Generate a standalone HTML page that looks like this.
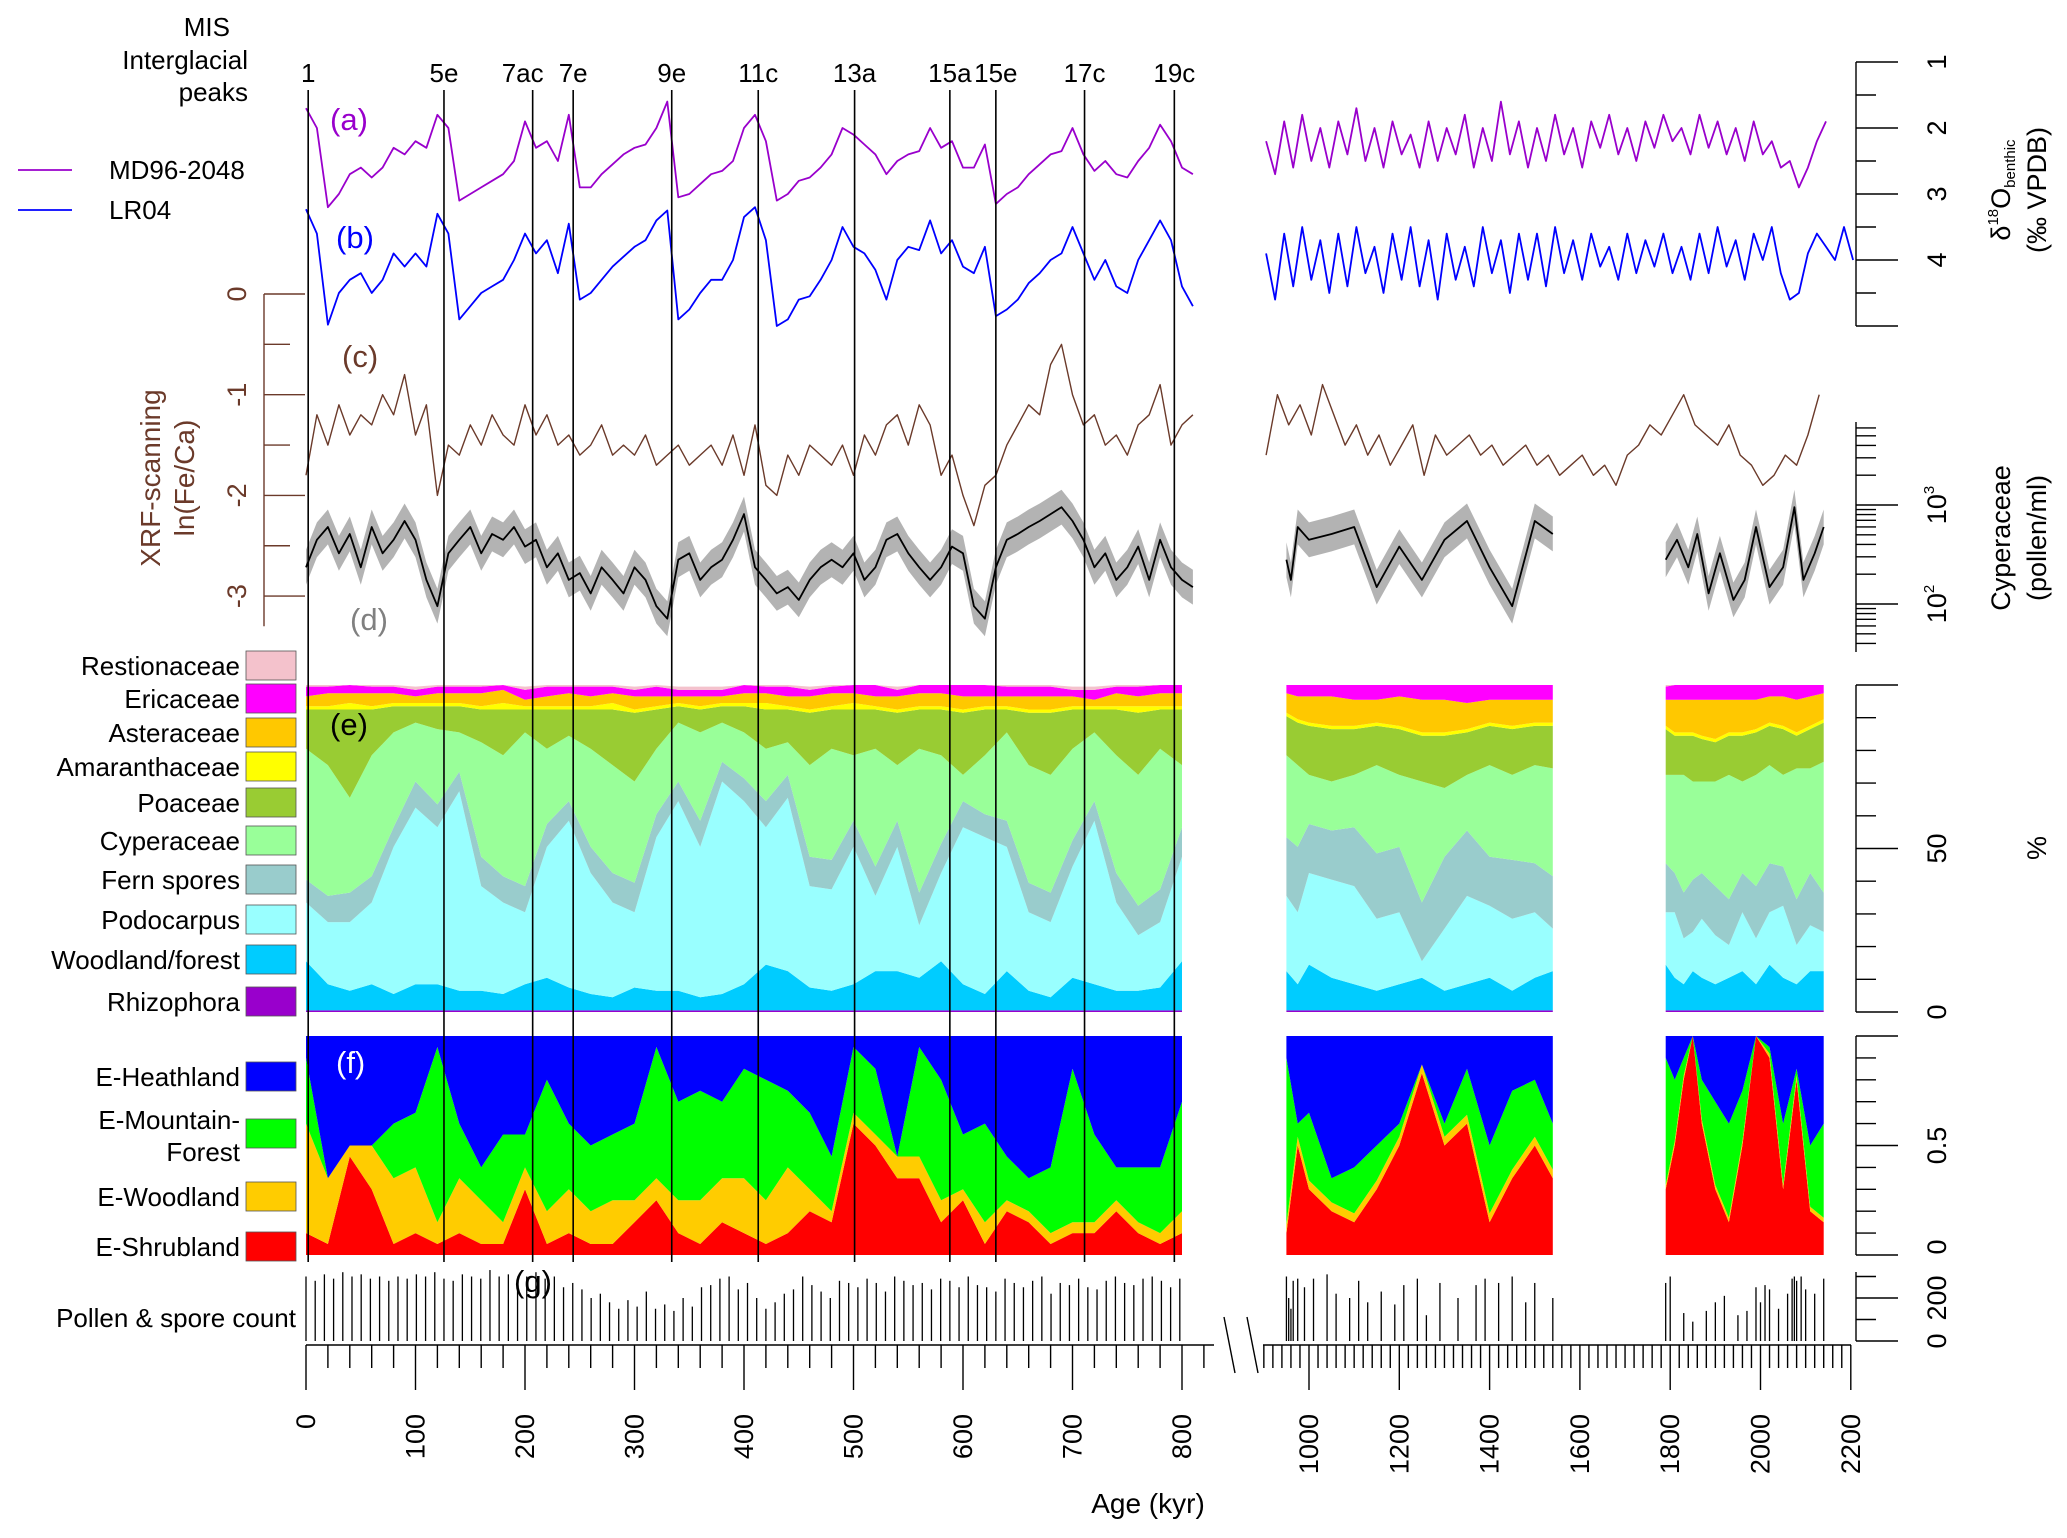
<!DOCTYPE html>
<html><head><meta charset="utf-8"><style>
html,body{margin:0;padding:0;background:#fff;}
svg{display:block;font-family:"Liberation Sans",Arial,sans-serif;}
</style></head><body>
<svg id="chart" width="2067" height="1538" viewBox="0 0 2067 1538" xmlns="http://www.w3.org/2000/svg">
<defs>
<clipPath id="clipE"><rect x="0" y="685" width="2067" height="327"/></clipPath>
<clipPath id="clipF"><rect x="0" y="1036" width="2067" height="219"/></clipPath>
</defs>
<g id="layer"></g>
</svg>
<script>
// ---------- DATA ----------
const misLabels=["1","5e","7ac","7e","9e","11c","13a","15a","15e","17c","19c"];
const misAges=[2,126,207,244,334,413,501,588,630,711,793];
// isotopes left (10-kyr step from 0)
const md96Left=[1.7,2.0,3.2,3.0,2.7,2.6,2.75,2.6,2.3,2.4,2.2,2.3,1.8,2.0,3.1,3.0,2.9,2.8,2.7,2.5,1.9,2.3,2.2,2.5,1.8,2.9,2.9,2.7,2.55,2.4,2.3,2.25,2.0,1.6,3.05,3.0,2.85,2.7,2.65,2.5,2.0,1.8,2.2,3.1,3.0,2.8,2.75,2.6,2.4,2.0,2.1,2.25,2.4,2.7,2.5,2.4,2.35,2.0,2.3,2.2,2.6,2.6,2.25,3.15,3.0,2.9,2.7,2.55,2.4,2.35,2.0,2.4,2.65,2.5,2.7,2.75,2.5,2.3,1.95,2.2,2.6,2.7];
const lr04Left=[3.23,3.6,4.98,4.5,4.3,4.2,4.5,4.3,3.9,4.1,3.9,4.1,3.3,3.6,4.9,4.7,4.5,4.4,4.3,4.0,3.6,3.9,3.7,4.2,3.45,4.6,4.5,4.3,4.1,3.95,3.8,3.7,3.4,3.25,4.9,4.75,4.5,4.3,4.3,4.0,3.35,3.2,3.7,5.0,4.9,4.6,4.55,4.3,4.0,3.5,3.8,3.9,4.15,4.6,4.0,3.8,3.85,3.4,3.9,3.7,4.1,4.2,3.8,4.85,4.75,4.6,4.35,4.2,4.0,3.9,3.5,3.9,4.3,4.0,4.4,4.5,4.0,3.7,3.4,3.7,4.4,4.7];
// isotopes right (20-kyr step from 905)
const md96Right=[2.2,2.7,1.9,2.6,1.8,2.5,2.0,2.6,1.9,2.4,1.7,2.5,2.0,2.6,1.9,2.4,2.1,2.6,1.9,2.5,2.0,2.4,1.8,2.6,2.0,2.5,1.6,2.4,1.9,2.6,2.0,2.5,1.8,2.4,2.0,2.6,1.9,2.3,1.8,2.4,2.0,2.5,1.9,2.3,1.8,2.2,2.0,2.4,1.8,2.3,1.9,2.4,2.0,2.5,1.9,2.4,2.2,2.6,2.5,2.9,2.6,2.2,1.9];
const lr04Right=[3.9,4.6,3.6,4.4,3.5,4.3,3.7,4.5,3.6,4.4,3.5,4.2,3.8,4.5,3.6,4.3,3.5,4.4,3.7,4.6,3.6,4.3,3.8,4.4,3.5,4.2,3.7,4.5,3.6,4.3,3.6,4.4,3.5,4.2,3.7,4.3,3.6,4.1,3.8,4.3,3.6,4.2,3.7,4.1,3.6,4.2,3.8,4.3,3.6,4.2,3.5,4.1,3.7,4.3,3.6,4.0,3.5,4.2,4.6,4.5,3.9,3.6,3.8,4.0,3.5,4.0];
// XRF ln(Fe/Ca)
const xrfLeft=[-1.8,-1.2,-1.5,-1.1,-1.4,-1.2,-1.3,-1.0,-1.2,-0.8,-1.4,-1.1,-2.0,-1.5,-1.6,-1.3,-1.5,-1.2,-1.4,-1.5,-1.1,-1.4,-1.2,-1.5,-1.4,-1.6,-1.5,-1.3,-1.6,-1.5,-1.6,-1.4,-1.7,-1.6,-1.5,-1.7,-1.6,-1.5,-1.7,-1.4,-1.8,-1.3,-1.9,-2.0,-1.6,-1.8,-1.5,-1.6,-1.7,-1.5,-1.8,-1.4,-1.6,-1.3,-1.2,-1.5,-1.1,-1.3,-1.8,-1.6,-2.0,-2.3,-1.9,-1.8,-1.5,-1.3,-1.1,-1.2,-0.7,-0.5,-1.0,-1.3,-1.2,-1.5,-1.4,-1.6,-1.3,-1.2,-0.9,-1.5,-1.3,-1.2];
const xrfRight=[-1.6,-1.0,-1.3,-1.1,-1.4,-0.9,-1.2,-1.5,-1.3,-1.6,-1.4,-1.7,-1.5,-1.3,-1.8,-1.4,-1.6,-1.5,-1.4,-1.6,-1.5,-1.7,-1.6,-1.5,-1.7,-1.6,-1.8,-1.7,-1.6,-1.8,-1.7,-1.9,-1.6,-1.5,-1.3,-1.4,-1.2,-1.0,-1.3,-1.4,-1.5,-1.3,-1.6,-1.7,-1.9,-1.8,-1.6,-1.7,-1.4,-1.0];
// Cyperaceae pollen/ml
const cypLeft=[235,445,600,325,510,235,600,325,445,690,445,175,95,325,445,600,325,510,445,600,380,445,235,325,175,205,128,235,175,128,235,175,95,71,280,325,175,235,280,445,810,235,175,128,148,110,175,235,280,235,325,175,235,445,510,325,235,175,235,380,325,95,71,235,445,510,600,690,810,950,690,445,235,325,175,235,380,175,445,235,175,148];
const cypAges1=[950,960,975,1000,1050,1100,1150,1200,1250,1300,1350,1400,1450,1500,1540];
const cypSeg1=[280,175,600,445,510,600,148,380,175,445,690,235,95,690,510];
const cypAges2=[1790,1815,1840,1860,1885,1910,1940,1965,1990,2020,2050,2075,2095,2120,2140];
const cypSeg2=[280,445,235,510,128,325,110,175,600,148,235,950,175,325,600];
// pollen percentages, left (20-kyr step)
const rhizoL=[0.5,0.5,0.5,0.5,0.5,0.5,0.5,0.5,0.5,0.5,0.5,0.5,0.5,0.5,0.5,0.5,0.5,0.5,0.5,0.5,0.5,0.5,0.5,0.5,0.5,0.5,0.5,0.5,0.5,0.5,0.5,0.5,0.5,0.5,0.5,0.5,0.5,0.5,0.5,0.5,0.5];
const woodL=[15,8,6,8,5,8,8,6,6,5,8,10,7,5,4,7,6,6,4,5,8,14,12,7,6,8,12,12,10,15,8,5,12,6,4,10,8,6,6,7,15];
const podoL=[18,19,21,25,45,54,48,61,32,28,22,40,51,37,29,23,47,58,46,65,56,42,53,31,31,42,23,38,16,27,48,48,38,24,23,34,50,27,17,20,32];
const fernL=[7,8,9,8,6,8,7,6,9,8,8,7,6,8,9,9,7,6,8,6,7,8,7,9,9,8,9,8,10,9,8,7,8,9,9,8,6,9,9,10,9];
const cyperL=[40,40,29,37,29,18,23,12,35,37,47,23,20,30,33,31,20,18,27,12,14,16,10,28,34,20,36,17,44,27,8,18,27,36,36,28,21,36,40,43,19];
const poacL=[12,17,27,14,8,5,7,8,10,14,7,12,8,12,17,21,12,5,7,5,8,12,10,16,12,14,12,16,12,14,19,14,7,16,19,12,7,14,19,12,17];
const amarL=[1,1,2,1,1,1,1,1,1,2,1,1,1,1,2,1,1,1,1,1,1,2,1,1,1,2,1,1,1,1,1,1,1,1,1,1,1,1,2,1,1];
const asterL=[3,4,3,4,3,2,3,3,4,4,2,3,4,3,3,4,3,2,3,2,3,3,3,4,4,3,3,4,4,4,4,3,3,4,4,3,2,4,3,4,4];
const ericL=[3,2,3,2,2,2,2,2,2,2,3,3,2,3,2,2,3,2,2,2,3,2,3,2,2,3,4,2,3,3,4,5,3,3,3,2,3,2,3,4,3];
const restL=[1,1,1,1,1,1,1,1,1,1,1,1,1,1,1,1,1,1,1,1,1,1,1,1,1,2,2,1,1,1,2,2,2,2,2,1,1,1,2,2,2];
// right segment 1 & 2
const agesS1=[950,975,1000,1050,1100,1150,1200,1250,1300,1350,1400,1450,1500,1540];
const rhizo1=[0.5,0.5,0.5,0.5,0.5,0.5,0.5,0.5,0.5,0.5,0.5,0.5,0.5,0.5];
const wood1=[12,8,14,10,8,6,8,10,6,8,10,6,10,12];
const podo1=[23,22,28,30,30,22,22,5,19,27,22,22,20,13];
const fern1=[18,20,15,15,18,20,20,18,22,20,15,18,15,16];
const cyper1=[25,25,15,15,16,27,22,37,21,17,28,26,30,33];
const poac1=[12,13,15,16,14,12,14,14,16,13,12,14,12,13];
const amar1=[1,1,1,1,1,1,1,1,1,1,1,1,1,1];
const aster1=[6,7,8,9,8,7,9,10,10,8,7,8,7,7];
const eric1=[3,4,4,4,5,5,4,5,5,6,5,5,5,5];
const rest1=[1,1,1,1,1,1,1,1,1,1,1,1,1,1];
const agesS2=[1790,1810,1830,1850,1870,1900,1930,1960,1990,2020,2050,2080,2110,2140];
const rhizo2=[0.5,0.5,0.5,0.5,0.5,0.5,0.5,0.5,0.5,0.5,0.5,0.5,0.5,0.5];
const wood2=[14,10,8,12,10,8,10,12,8,14,10,8,12,12];
const podo2=[16,20,14,12,18,15,10,18,14,16,22,12,14,12];
const fern2=[15,12,14,16,14,15,14,12,16,15,12,14,16,12];
const cyper2=[27,30,36,30,28,32,38,28,34,30,28,40,32,40];
const poac2=[14,12,12,14,13,12,12,14,13,12,14,10,12,12];
const amar2=[1,1,1,1,1,1,1,1,1,1,1,1,1,1];
const aster2=[8,10,10,10,11,12,10,10,9,8,9,10,9,8];
const eric2=[4,5,5,5,5,5,5,5,5,4,4,5,4,3];
const rest2=[1,1,1,1,1,1,1,1,1,1,1,1,1,1];
// biomes (fractions)
const shrubL=[0.1,0.05,0.45,0.3,0.05,0.1,0.05,0.1,0.05,0.05,0.3,0.05,0.1,0.05,0.05,0.15,0.25,0.1,0.05,0.15,0.1,0.05,0.1,0.2,0.15,0.6,0.5,0.35,0.35,0.15,0.25,0.05,0.2,0.15,0.05,0.1,0.1,0.2,0.1,0.05,0.1];
const ewoodL=[0.5,0.3,0.05,0.2,0.3,0.3,0.1,0.25,0.2,0.1,0.1,0.15,0.2,0.15,0.2,0.1,0.1,0.15,0.2,0.2,0.25,0.2,0.3,0.1,0.05,0.05,0.05,0.1,0.1,0.1,0.05,0.1,0.05,0.05,0.05,0.05,0.05,0.05,0.05,0.05,0.1];
const mforL=[0.30,0.00,0.00,0.00,0.25,0.25,0.80,0.25,0.15,0.40,0.15,0.60,0.30,0.30,0.30,0.35,0.60,0.45,0.50,0.35,0.50,0.55,0.35,0.35,0.25,0.30,0.30,0.00,0.50,0.55,0.25,0.45,0.20,0.15,0.30,0.70,0.40,0.15,0.25,0.30,0.50];
const heathL=[0.10,0.65,0.50,0.50,0.40,0.35,0.05,0.40,0.60,0.45,0.45,0.20,0.40,0.50,0.45,0.40,0.05,0.30,0.25,0.30,0.15,0.20,0.25,0.35,0.55,0.05,0.15,0.55,0.05,0.20,0.45,0.40,0.55,0.65,0.60,0.15,0.45,0.60,0.60,0.60,0.30];
const shrub1=[0.1,0.5,0.3,0.2,0.15,0.3,0.5,0.83,0.5,0.6,0.15,0.35,0.5,0.35];
const ewood1=[0.04,0.04,0.04,0.04,0.04,0.04,0.04,0.04,0.04,0.04,0.04,0.04,0.04,0.04];
const mfor1=[0.76,0.06,0.31,0.11,0.21,0.16,0.06,0.0,0.06,0.21,0.31,0.36,0.26,0.21];
const heath1=[0.1,0.4,0.35,0.65,0.6,0.5,0.4,0.15,0.4,0.15,0.5,0.25,0.2,0.4];
const shrub2=[0.3,0.5,0.8,1.0,0.6,0.3,0.15,0.5,1.0,0.9,0.3,0.8,0.2,0.15];
const ewood2=[0.02,0.02,0.02,0.02,0.02,0.02,0.02,0.02,0.02,0.02,0.02,0.02,0.02,0.02];
const mfor2=[0.58,0.28,0.08,0.0,0.18,0.38,0.43,0.23,0.0,0.03,0.28,0.03,0.28,0.43];
const heath2=[0.1,0.2,0.1,0.0,0.2,0.3,0.4,0.25,0.0,0.05,0.4,0.15,0.5,0.4];
// pollen & spore counts
const countLeft=[300,280,310,290,320,300,310,290,300,280,300,290,310,300,320,290,280,310,300,290,330,300,310,280,300,320,290,300,250,270,240,200,220,180,150,190,160,230,150,170,140,200,160,250,260,290,300,240,270,200,150,180,220,240,300,260,230,200,280,270,250,290,270,230,300,280,260,270,240,290,280,250,300,260,250,230,290,270,250,280,300,220,270,260,290,250,240,280,300,270,260,290,300,280,250,290];
const countAgesR=[950,955,960,965,975,990,1010,1040,1060,1090,1110,1130,1160,1190,1210,1240,1260,1290,1330,1370,1390,1420,1450,1480,1500,1540,1790,1800,1830,1850,1880,1900,1920,1950,1970,1990,2000,2010,2020,2040,2060,2070,2075,2080,2090,2100,2120,2140];
const countRight=[300,200,150,280,290,250,290,310,220,200,280,180,230,170,260,290,120,270,200,260,290,270,300,180,270,200,270,300,130,90,140,180,210,120,140,250,180,260,240,150,220,290,300,280,300,240,220,290];
const xTickLabelsL=["0","100","200","300","400","500","600","700","800"];
const xTickLabelsR=["1000","1200","1400","1600","1800","2000","2200"];

// ---------- SCALES ----------
const NS="http://www.w3.org/2000/svg";
const L=document.getElementById('layer');
function xA(a){return a<=860?306+a*1.095:1309+(a-1000)*0.4515;}
function yI(v){return 62+(v-1)*66;}
function yX(v){return 294-v*100.7;}
function yL(n){return 505-(Math.log10(n)-3)*99;}
function yP(p){return 1012-Math.min(p,100)*3.27;}
function yF(f){return 1255-Math.min(f,1)*219;}
function yC(c){return 1341-c*0.215;}
function mk(tag,at,parent){const e=document.createElementNS(NS,tag);for(const k in at)e.setAttribute(k,at[k]);(parent||L).appendChild(e);return e;}
function txt(s,x,y,size,opt){opt=opt||{};const t=mk('text',{x:x,y:y,'font-size':size,fill:opt.fill||'#000','text-anchor':opt.anchor||'start'});if(opt.rot)t.setAttribute('transform','rotate(-90 '+x+' '+y+')');t.textContent=s;return t;}
function line(ages,vals,yf,color,w,name){const p=ages.map((a,i)=>xA(a).toFixed(1)+','+yf(vals[i]).toFixed(1)).join(' ');const e=mk('polyline',{points:p,fill:'none',stroke:color,'stroke-width':w,'stroke-linejoin':'round'});return e;}
function stepAges(start,step,n){const r=[];for(let i=0;i<n;i++)r.push(start+step*i);return r;}
function stack(ages,layers,colors,yf,clip,names,prefix){let base=ages.map(()=>0);const g=mk('g',{'clip-path':'url(#'+clip+')'});layers.forEach((arr,k)=>{const top=base.map((b,i)=>b+arr[i]);let pts=ages.map((a,i)=>xA(a).toFixed(1)+','+yf(top[i]).toFixed(1));for(let i=ages.length-1;i>=0;i--)pts.push(xA(ages[i]).toFixed(1)+','+yf(base[i]).toFixed(1));const e=mk('polygon',{points:pts.join(' '),fill:colors[k],stroke:'none'},g);base=top;});}
function band(ages,vals,name){let pts=ages.map((a,i)=>xA(a).toFixed(1)+','+yL(vals[i]*1.5).toFixed(1));for(let i=ages.length-1;i>=0;i--)pts.push(xA(ages[i]).toFixed(1)+','+yL(vals[i]/1.5).toFixed(1));const e=mk('polygon',{points:pts.join(' '),fill:'#b3b3b3'});}

// ---------- PANELS e, f ----------
const eCols=['#9900cc','#00ccff','#99ffff','#99cccc','#99ff99','#99cc33','#ffff00','#ffc800','#ff00ff','#f4c2cc'];
const eNames=['rhizophora','woodland','podocarpus','fern','cyperaceae','poaceae','amaranthaceae','asteraceae','ericaceae','restionaceae'];
const agesL20=stepAges(0,20,41);
stack(agesL20,[rhizoL,woodL,podoL,fernL,cyperL,poacL,amarL,asterL,ericL,restL],eCols,yP,'clipE',eNames,'pollen-left');
stack(agesS1,[rhizo1,wood1,podo1,fern1,cyper1,poac1,amar1,aster1,eric1,rest1],eCols,yP,'clipE',eNames,'pollen-seg1');
stack(agesS2,[rhizo2,wood2,podo2,fern2,cyper2,poac2,amar2,aster2,eric2,rest2],eCols,yP,'clipE',eNames,'pollen-seg2');
const fCols=['#ff0000','#ffcc00','#00ff00','#0000ff'];
const fNames=['shrubland','woodland','mountain-forest','heathland'];
stack(agesL20,[shrubL,ewoodL,mforL,heathL],fCols,yF,'clipF',fNames,'biome-left');
stack(agesS1,[shrub1,ewood1,mfor1,heath1],fCols,yF,'clipF',fNames,'biome-seg1');
stack(agesS2,[shrub2,ewood2,mfor2,heath2],fCols,yF,'clipF',fNames,'biome-seg2');

// ---------- isotopes, xrf, cyperaceae ----------
line(stepAges(0,10,md96Left.length),md96Left,yI,'#9900cc',1.8,'md96-line-left');
line(stepAges(905,20,md96Right.length),md96Right,yI,'#9900cc',1.8,'md96-line-right');
line(stepAges(0,10,lr04Left.length),lr04Left,yI,'#0000ff',1.8,'lr04-line-left');
line(stepAges(905,20,lr04Right.length),lr04Right,yI,'#0000ff',1.8,'lr04-line-right');
line(stepAges(0,10,xrfLeft.length),xrfLeft,yX,'#6b3a2a',1.4,'xrf-line-left');
line(stepAges(905,25,xrfRight.length),xrfRight,yX,'#6b3a2a',1.4,'xrf-line-right');
const cypAgesL=stepAges(0,10,cypLeft.length);
band(cypAgesL,cypLeft,'cyperaceae-band-left');band(cypAges1,cypSeg1,'cyperaceae-band-seg1');band(cypAges2,cypSeg2,'cyperaceae-band-seg2');
line(cypAgesL,cypLeft,yL,'#000',1.8,'cyperaceae-line-left');
line(cypAges1,cypSeg1,yL,'#000',1.8,'cyperaceae-line-seg1');
line(cypAges2,cypSeg2,yL,'#000',1.8,'cyperaceae-line-seg2');

// ---------- counts ----------
const countAgesL=stepAges(0,8.4,countLeft.length);
countLeft.forEach((c,i)=>{const x=xA(countAgesL[i]);const b=mk('line',{x1:x,x2:x,y1:1341,y2:yC(c),stroke:'#000','stroke-width':1.3});});
countRight.forEach((c,i)=>{const x=xA(countAgesR[i]);const b=mk('line',{x1:x,x2:x,y1:1341,y2:yC(c),stroke:'#000','stroke-width':1.3});});

// ---------- MIS lines ----------
misAges.forEach((a,i)=>{const x=xA(a);const l=mk('line',{x1:x,x2:x,y1:90,y2:1262,stroke:'#000','stroke-width':1.6});
const t=txt(misLabels[i],x+(i==2?-10:0),82,26,{anchor:'middle'});});
[['MIS',230,36],['Interglacial',248,69],['peaks',248,101]].forEach(r=>{const t=txt(r[0],r[1],r[2],26,{anchor:'end'});});

// ---------- x axis ----------
const ax=mk('g',{stroke:'#000','stroke-width':1.4});

mk('line',{x1:306,x2:1214,y1:1345,y2:1345},ax);mk('line',{x1:1263,x2:1851,y1:1345,y2:1345},ax);
mk('line',{x1:1224,x2:1235,y1:1317,y2:1373},ax);mk('line',{x1:1247,x2:1258,y1:1317,y2:1373},ax);
for(let a=0;a<=820;a+=20){const x=xA(a);mk('line',{x1:x,x2:x,y1:1345,y2:a%100==0?1390:1368},ax);}
for(let a=900;a<=2200;a+=20){const x=xA(a);mk('line',{x1:x,x2:x,y1:1345,y2:a%200==0?1390:1368},ax);}
xTickLabelsL.forEach(s=>{const t=txt(s,xA(+s)+9,1414,27,{anchor:'end',rot:true});});
xTickLabelsR.forEach(s=>{const t=txt(s,xA(+s)+9,1414,27,{anchor:'end',rot:true});});
{const t=txt('Age (kyr)',1148,1513,28,{anchor:'middle'});}

// ---------- right axes ----------
function rAxis(y0,y1,majors,minors,name){const g=mk('g',{stroke:'#000','stroke-width':1.4});mk('line',{x1:1856,x2:1856,y1:y0,y2:y1},g);majors.forEach(y=>mk('line',{x1:1856,x2:1898,y1:y,y2:y},g));minors.forEach(y=>mk('line',{x1:1856,x2:1876,y1:y,y2:y},g));}
rAxis(yI(1),yI(5),[1,2,3,4,5].map(yI),[1.5,2.5,3.5,4.5].map(yI),'isotope-axis');
const logMinors=[];[40,50,60,70,80,90,200,300,400,500,600,700,800,900,2000,3000,4000,5000,6000].forEach(n=>logMinors.push(yL(n)));
rAxis(422,652,[yL(100),yL(1000)],logMinors,'cyperaceae-axis');
rAxis(685,1012,[yP(0),yP(50),yP(100)],[10,20,30,40,60,70,80,90].map(yP),'percent-axis');
rAxis(1036,1255,[yF(0),yF(0.5),yF(1)],[0.1,0.2,0.3,0.4,0.6,0.7,0.8,0.9].map(yF),'biome-axis');
rAxis(1272,1341,[yC(0),yC(200)],[yC(100),yC(300)],'count-axis');
[['1',yI(1)],['2',yI(2)],['3',yI(3)],['4',yI(4)],['50',yP(50)],['0',yP(0)],['0.5',yF(0.5)],['0',yF(0)-8],['200',yC(200)],['0',yC(0)]].forEach(r=>{const t=txt(r[0],1946,r[1],27,{anchor:'middle',rot:true});});
[[yL(1000),'3'],[yL(100),'2']].forEach(r=>{const t=mk('text',{x:1946,y:r[0],'font-size':27,'text-anchor':'middle',transform:'rotate(-90 1946 '+r[0]+')'});t.innerHTML='10<tspan font-size="15" dy="-12">'+r[1]+'</tspan>';});
{const t=mk('text',{x:2010,y:190,'font-size':27,'text-anchor':'middle',transform:'rotate(-90 2010 190)'});t.innerHTML='δ<tspan font-size="15" dy="-12">18</tspan><tspan dy="12">O</tspan><tspan font-size="15" dy="5">benthic</tspan>';}
[['(‰ VPDB)',2046,190],['Cyperaceae',2010,538],['(pollen/ml)',2046,538],['%',2046,848]].forEach(r=>{const t=txt(r[0],r[1],r[2],27,{anchor:'middle',rot:true});});

// ---------- XRF left axis ----------
{const g=mk('g',{stroke:'#6b3a2a','stroke-width':1.4});
mk('line',{x1:264,x2:264,y1:yX(0),y2:yX(-3.3)},g);
for(let v=0;v>=-3.3;v-=0.5){mk('line',{x1:264,x2:Math.abs(v%1)<0.01?305:290,y1:yX(v),y2:yX(v)},g);}}
['0','-1','-2','-3'].forEach(s=>{const t=txt(s,246,yX(+s),27,{anchor:'middle',rot:true,fill:'#6b3a2a'});});
[['XRF-scanning',160,478],['ln(Fe/Ca)',194,478]].forEach(r=>{const t=txt(r[0],r[1],r[2],28,{anchor:'middle',rot:true,fill:'#6b3a2a'});});

// ---------- panel labels ----------
[['(a)',330,130,'#9900cc'],['(b)',336,248,'#0000ff'],['(c)',342,367,'#6b3a2a'],['(d)',350,630,'#808080'],['(e)',330,735,'#000'],['(f)',336,1073,'#fff'],['(g)',514,1292,'#000']].forEach(r=>{const t=txt(r[0],r[1],r[2],31,{fill:r[3]});});

// ---------- legends ----------
{const g=mk('g',{});
mk('line',{x1:18,x2:72,y1:170,y2:170,stroke:'#9900cc','stroke-width':1.8},g);mk('line',{x1:18,x2:72,y1:210,y2:210,stroke:'#0000ff','stroke-width':1.8},g);
const t1=txt('MD96-2048',109,179,26);g.appendChild(t1);
const t2=txt('LR04',109,219,26);g.appendChild(t2);}
const eLeg=[['Restionaceae',666,'#f4c2cc'],['Ericaceae',699,'#ff00ff'],['Asteraceae',733,'#ffc800'],['Amaranthaceae',767,'#ffff00'],['Poaceae',803,'#99cc33'],['Cyperaceae',841,'#99ff99'],['Fern spores',880,'#99cccc'],['Podocarpus',920,'#99ffff'],['Woodland/forest',960,'#00ccff'],['Rhizophora',1002,'#9900cc']];
eLeg.forEach(r=>{const b=mk('rect',{x:246,y:r[1]-15,width:50,height:29,fill:r[2],stroke:'#555','stroke-width':0.8});
const t=txt(r[0],240,r[1]+9,26,{anchor:'end'});});
const fLeg=[['E-Heathland',1077,'#0000ff'],['E-Woodland',1197,'#ffcc00'],['E-Shrubland',1247,'#ff0000']];
fLeg.forEach(r=>{const b=mk('rect',{x:246,y:r[1]-15,width:50,height:29,fill:r[2],stroke:'#555','stroke-width':0.8});
const t=txt(r[0],240,r[1]+9,26,{anchor:'end'});});
{const b=mk('rect',{x:246,y:1119,width:50,height:29,fill:'#00ff00',stroke:'#555','stroke-width':0.8});
const t=txt('E-Mountain-',240,1129,26,{anchor:'end'});
const t2=txt('Forest',240,1161,26,{anchor:'end'});}
{const t=txt('Pollen & spore count',296,1327,26,{anchor:'end'});}
</script>
</body></html>
